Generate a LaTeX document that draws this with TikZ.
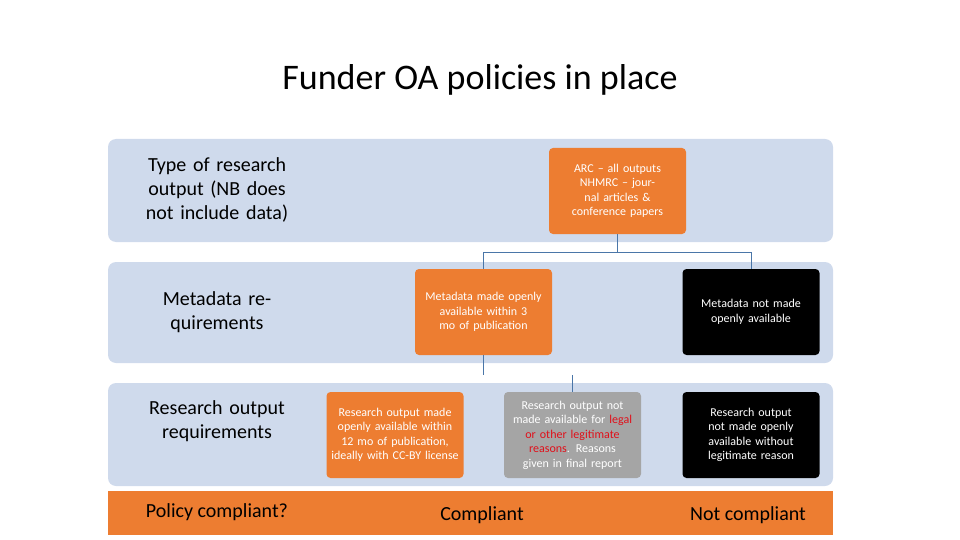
\documentclass[tikz,border=0pt]{standalone}
\usepackage{fontspec}
\setmainfont{Carlito}
\definecolor{band}{HTML}{CFDAEC}
\definecolor{accent}{HTML}{ED7D31}
\definecolor{neutral}{HTML}{A5A5A5}
\definecolor{link}{HTML}{4A76A8}
\definecolor{warn}{HTML}{E0101A}
\tikzset{
  box/.style={rounded corners=4pt, minimum width=137pt, minimum height=86pt, text width=128pt, align=center, font=\fontsize{12}{14.5}\selectfont, text=white, inner sep=2pt},
  orange box/.style={box, fill=accent},
  grey box/.style={box, fill=neutral},
  black box/.style={box, fill=black},
  row label/.style={font=\fontsize{20}{24}\selectfont, align=center, text width=180pt},
  link/.style={draw=link, line width=0.8pt}
}
\begin{document}
\begin{tikzpicture}[x=1pt, y=-1pt]
	\useasboundingbox (0,0) rectangle (960,540);
	% title
	\node[font=\fontsize{36}{40}\selectfont] (title) at (480,80) {Funder OA policies in place};
	% bands
	\fill[band, rounded corners=8pt] (108,139) rectangle (833,242);
	\fill[band, rounded corners=8pt] (108,262) rectangle (833,363);
	\fill[band, rounded corners=8pt] (108,383) rectangle (833,486);
	\fill[accent] (108,491) rectangle (833,535);
	% row labels
	\node[row label] (typelbl) at (217,190) {Type of research output (NB does not include data)};
	\node[row label] (metalbl) at (217,312) {Metadata requirements};
	\node[row label] (outlbl) at (217,421) {Research output requirements};
	\node[font=\fontsize{20}{24}\selectfont] (policy) at (217,512) {Policy compliant?};
	\node[font=\fontsize{20}{24}\selectfont] (yes) at (482,515) {Compliant};
	\node[font=\fontsize{20}{24}\selectfont] (no) at (748,515) {Not compliant};
	% boxes
	\node[orange box] (arc) at (617.5,191) {ARC -- all outputs\\NHMRC -- journal articles \&\\conference papers};
	\node[orange box] (metaok) at (483.5,312) {Metadata made openly available within 3 mo of publication};
	\node[black box] (metano) at (751,312) {Metadata not made openly available};
	\node[orange box] (outok) at (395,435) {Research output made openly available within 12 mo of publication, ideally with CC-BY license};
	\node[grey box] (outlegal) at (572.5,435) {Research output not made available for \textcolor{warn}{legal or other legitimate reasons}. Reasons given in final report};
	\node[black box] (outno) at (751,435) {Research output not made openly available without legitimate reason};
	% connectors
	\draw[link] (arc.south) -- ++(0,18) -| (metaok.north);
	\draw[link] (arc.south) -- ++(0,18) -| (metano.north);
	\coordinate (metaend) at (483.5,375);
	\coordinate (legalstart) at (572.5,375);
	\draw[link] (metaok.south) -- (metaend);
	\draw[link] (legalstart) -- (outlegal.north);
\end{tikzpicture}
\end{document}
